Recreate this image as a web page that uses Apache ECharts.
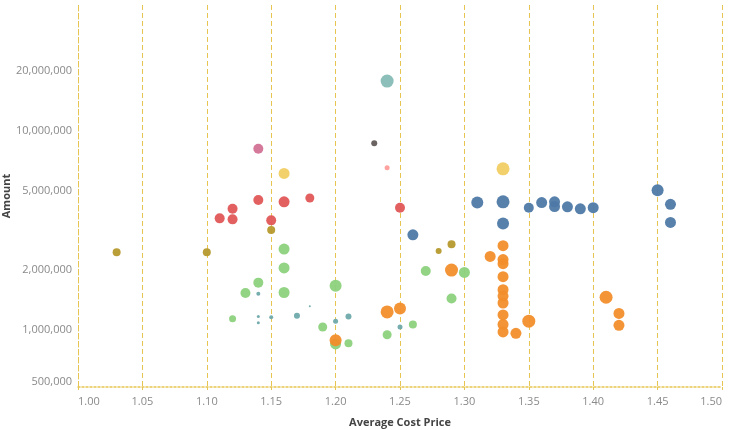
<!DOCTYPE html>
<html>
<head>
<meta charset="utf-8">
<script src="https://cdn.jsdelivr.net/npm/echarts@6/dist/echarts.min.js"></script>
<style>html,body{margin:0;padding:0;background:#fff}#c{width:750px;height:430px}</style>
</head>
<body>
<div id="c"></div>
<script>
// Each point: [Average Cost Price, Amount, size measure]
const blue = [[1.26,2900000,11],[1.31,4220000,12],[1.33,4250000,13],[1.33,3310000,12],[1.35,3970000,10],[1.36,4210000,11],[1.37,4250000,11],[1.37,4020000,11],[1.38,4010000,11],[1.39,3920000,11],[1.40,3970000,11],[1.45,4850000,12],[1.46,4130000,11],[1.46,3350000,11]];
const orange = [[1.20,858000,12],[1.24,1190000,13],[1.25,1240000,12],[1.29,1930000,13],[1.32,2260000,11],[1.33,2560000,11],[1.33,2180000,11],[1.33,2080000,11],[1.33,1790000,11],[1.33,1540000,11],[1.33,1430000,11],[1.33,1320000,11],[1.33,1150000,11],[1.33,1030000,11],[1.33,945000,11],[1.34,930000,11],[1.35,1070000,13],[1.41,1410000,13],[1.42,1170000,11],[1.42,1020000,11]];
const red = [[1.11,3510000,10],[1.12,3920000,10],[1.12,3470000,10],[1.14,4340000,10],[1.15,3430000,10],[1.16,4250000,11],[1.18,4440000,9],[1.25,3970000,10]];
const green = [[1.12,1100000,7],[1.13,1480000,10],[1.14,1670000,10],[1.16,2460000,11],[1.16,1980000,11],[1.16,1490000,11],[1.19,1000000,9],[1.20,1610000,12],[1.20,822000,11],[1.21,829000,8],[1.24,915000,9],[1.26,1030000,8],[1.27,1910000,10],[1.29,1390000,10],[1.30,1880000,11]];
const olive = [[1.03,2370000,8],[1.10,2370000,8],[1.15,3070000,8],[1.28,2410000,6],[1.29,2600000,8]];
const yellow = [[1.16,5900000,11],[1.33,6220000,13]];
const tealSmall = [[1.14,1470000,4],[1.14,1130000,3],[1.15,1120000,4],[1.14,1050000,3],[1.17,1140000,6],[1.18,1270000,2],[1.20,1070000,5],[1.21,1130000,6],[1.25,1000000,5]];
const tealLarge = [[1.24,17150000,13]];
const magenta = [[1.14,7850000,10]];
const darkGrey = [[1.23,8350000,6]];
const lightPink = [[1.24,6300000,5]];

const yTicks = [500000,1000000,2000000,5000000,10000000,20000000];
const xMin = 1.0, xMax = 1.5, xStep = 0.05;

const gold = '#e6c552';
function mk(name, data, color){
  return {name, type:'scatter', data, symbolSize: d => d[2],
    itemStyle:{color, opacity:0.95}, emphasis:{disabled:true}};
}
const chart = echarts.init(document.getElementById('c'));
chart.setOption({
  animation:false,
  grid:{left:78, right:28, top:5, bottom:43, containLabel:false, outerBoundsMode:'none'},
  xAxis:{type:'value', min:xMin, max:xMax, interval:xStep,
    name:'Average Cost Price', nameLocation:'middle', nameGap:30, nameMoveOverlap:false,
    nameTextStyle:{color:'#444', fontSize:11, fontFamily:'Open Sans', fontWeight:'bold'},
    axisLine:{show:true, lineStyle:{color:gold, type:[2,2], width:1.5}},
    axisTick:{show:true, length:3, lineStyle:{color:gold}},
    splitLine:{show:true, lineStyle:{color:gold, type:[5,3], width:1}},
    axisLabel:{color:'#8a8a8a', fontSize:11, fontFamily:'Open Sans', margin:9,
      formatter:v=>v.toFixed(2), alignMinLabel:'left', alignMaxLabel:'right'}},
  yAxis:{type:'log', logBase:10, min:500000, max:41300000,
    name:'Amount', nameLocation:'middle', nameGap:66, nameMoveOverlap:false,
    nameTextStyle:{color:'#444', fontSize:11, fontFamily:'Open Sans', fontWeight:'bold'},
    axisLine:{show:true, lineStyle:{color:gold, type:[5,3], width:1}},
    axisTick:{show:false},
    splitLine:{show:false},
    axisLabel:{customValues:yTicks, color:'#8a8a8a', fontSize:11, fontFamily:'Open Sans', margin:6,
      formatter:v=>'{a|' + Math.round(v).toLocaleString('en-US') + '}',
      rich:{a:{color:'#8a8a8a', fontSize:11, fontFamily:'Open Sans', padding:[6,0,0,0]}},
      verticalAlignMinLabel:'bottom'}},
  series:[
    mk('Green', green, '#8cd17d'),
    mk('Teal', tealSmall, '#6fa9ab'),
    mk('TealL', tealLarge, '#86bcb6'),
    mk('Olive', olive, '#b6992d'),
    mk('Red', red, '#e15759'),
    mk('Magenta', magenta, '#d37295'),
    mk('Grey', darkGrey, '#625b5a'),
    mk('Pink', lightPink, '#ff9d9a'),
    mk('Yellow', yellow, '#f1ce63'),
    mk('Orange', orange, '#f28e2b'),
    mk('Blue', blue, '#4e79a7')
  ]
});
</script>
</body>
</html>
